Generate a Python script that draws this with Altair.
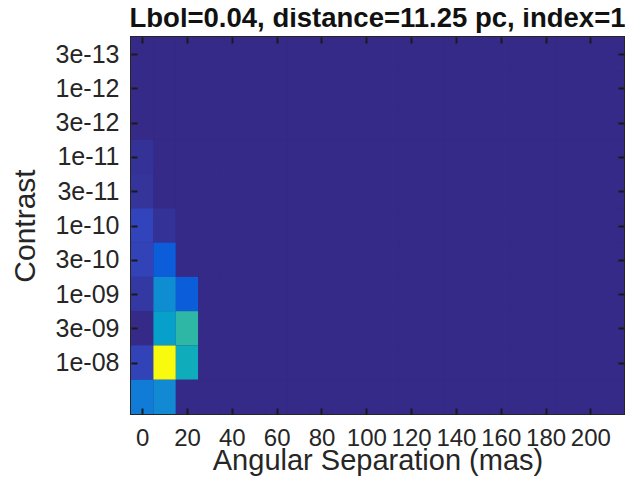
import json
import altair as alt
import pandas as pd

# ---------------- data ----------------
title_text = "Lbol=0.04, distance=11.25 pc, index=1"
x_title = "Angular Separation (mas)"
y_title = "Contrast"

# column centres (mas)
separations = [0, 10, 20, 30, 40, 50, 60, 70, 80, 90, 100,
               110, 120, 130, 140, 150, 160, 170, 180, 190, 200, 210]
# rows, top to bottom
row_index = [1, 2, 3, 4, 5, 6, 7, 8, 9, 10, 11]
contrast_labels = ["3e-13", "1e-12", "3e-12", "1e-11", "3e-11", "1e-10",
                   "3e-10", "1e-09", "3e-09", "1e-08"]

# cell values (relative), per column, top row first
col_0 = [0, 0, 0, 0.02, 0.025, 0.065, 0.06, 0.035, 0, 0.06, 0.22]
col_10 = [0, 0, 0, 0, 0, 0.02, 0.115, 0.28, 0.35, 1.0, 0.27]
col_20 = [0, 0, 0, 0, 0, 0, 0, 0.115, 0.49, 0.42, 0]
col_other = [0, 0, 0, 0, 0, 0, 0, 0, 0, 0, 0]

x_ticks = [0, 20, 40, 60, 80, 100, 120, 140, 160, 180, 200]
y_ticks = [1, 2, 3, 4, 5, 6, 7, 8, 9, 10]

# parula colormap stops
parula_pos = [0, 4/63, 8/63, 12/63, 16/63, 20/63, 24/63, 28/63, 32/63,
              36/63, 40/63, 44/63, 48/63, 52/63, 56/63, 60/63, 1]
parula_col = ["#352a87", "#3243ba", "#0363e1", "#0d75dc", "#1485d4",
              "#0998d1", "#06a7c6", "#15b1b4", "#38b99e", "#65be86",
              "#92bf73", "#b7bd64", "#d9ba56", "#f8ba44", "#fcce2e",
              "#f5e41d", "#f9fb0e"]

# ---------------- table ----------------
columns = {0: col_0, 10: col_10, 20: col_20}
recs = []
for s in separations:
    vals = columns.get(s, col_other)
    for r, v in zip(row_index, vals):
        recs.append({"x0": s - 5, "x1": s + 5, "y0": r - 0.5, "y1": r + 0.5, "value": v})
cells = pd.DataFrame(recs)

ink = "#262626"
tick_col = "#1a1a1a"
FONT = "Liberation Sans"
W, H = 493, 377
TL = 6  # inward tick length

xscale = alt.Scale(domain=[-5, 215], nice=False, zero=False)
yscale = alt.Scale(domain=[0.5, 11.5], reverse=True, nice=False, zero=False)
vmax = max(col_0 + col_10 + col_20)
cscale = alt.Scale(domain=[p * vmax for p in parula_pos], range=parula_col,
                   interpolate="rgb")

label_expr = json.dumps(contrast_labels) + "[datum.value - 1]"

# main layer: bottom / left axes, ticks pointing inward via negative offset,
# drawn above the cells (zindex=1)
heat = alt.Chart(cells).mark_rect().encode(
    x=alt.X("x0:Q", scale=xscale, title=x_title,
            axis=alt.Axis(values=x_ticks, ticks=True, tickSize=TL, offset=-TL,
                          tickColor=tick_col, tickWidth=2, zindex=1,
                          domain=False, grid=False,
                          labelFontSize=24, labelPadding=12, labelColor=ink,
                          labelFont=FONT, labelFlush=False, labelOverlap=False,
                          titleFontSize=29, titleFont=FONT, titleColor=ink,
                          titleFontWeight="normal", titleBaseline="alphabetic",
                          titleY=55 + TL)),
    x2="x1:Q",
    y=alt.Y("y0:Q", scale=yscale, title=y_title,
            axis=alt.Axis(values=y_ticks, ticks=True, tickSize=TL, offset=-TL,
                          tickColor=tick_col, tickWidth=2, zindex=1,
                          domain=False, grid=False,
                          labelExpr=label_expr,
                          labelFontSize=25, labelPadding=12, labelColor=ink,
                          labelFont=FONT, labelFlush=False, labelOverlap=False,
                          titleFontSize=30, titleFont=FONT, titleColor=ink,
                          titleFontWeight="normal", titlePadding=15)),
    y2="y1:Q",
    color=alt.Color("value:Q", scale=cscale, legend=None),
)

# invisible layer carrying the top / right tick-only axes (box on)
frame = alt.Chart(cells).mark_rect(opacity=0).encode(
    x=alt.X("x0:Q", scale=xscale, title=None,
            axis=alt.Axis(orient="top", values=x_ticks, labels=False,
                          ticks=True, tickSize=TL, offset=-TL,
                          tickColor=tick_col, tickWidth=2, zindex=1,
                          domain=False, grid=False)),
    x2="x1:Q",
    y=alt.Y("y0:Q", scale=yscale, title=None,
            axis=alt.Axis(orient="right", values=y_ticks, labels=False,
                          ticks=True, tickSize=TL, offset=-TL,
                          tickColor=tick_col, tickWidth=2, zindex=1,
                          domain=False, grid=False)),
    y2="y1:Q",
)

chart = alt.layer(heat, frame).resolve_axis(x="independent", y="independent").properties(
    width=W, height=H,
    title=alt.TitleParams(title_text, fontSize=27.5, font=FONT, fontWeight="bold",
                          color="#111111", anchor="middle"),
    padding={"left": 123, "top": 29, "right": 1, "bottom": 62},
    autosize=alt.AutoSizeParams(type="none"),
).configure_view(stroke=ink, strokeWidth=2, fill="#352a87")

chart.save("out.html", embed_options={"renderer": "svg", "actions": False})
